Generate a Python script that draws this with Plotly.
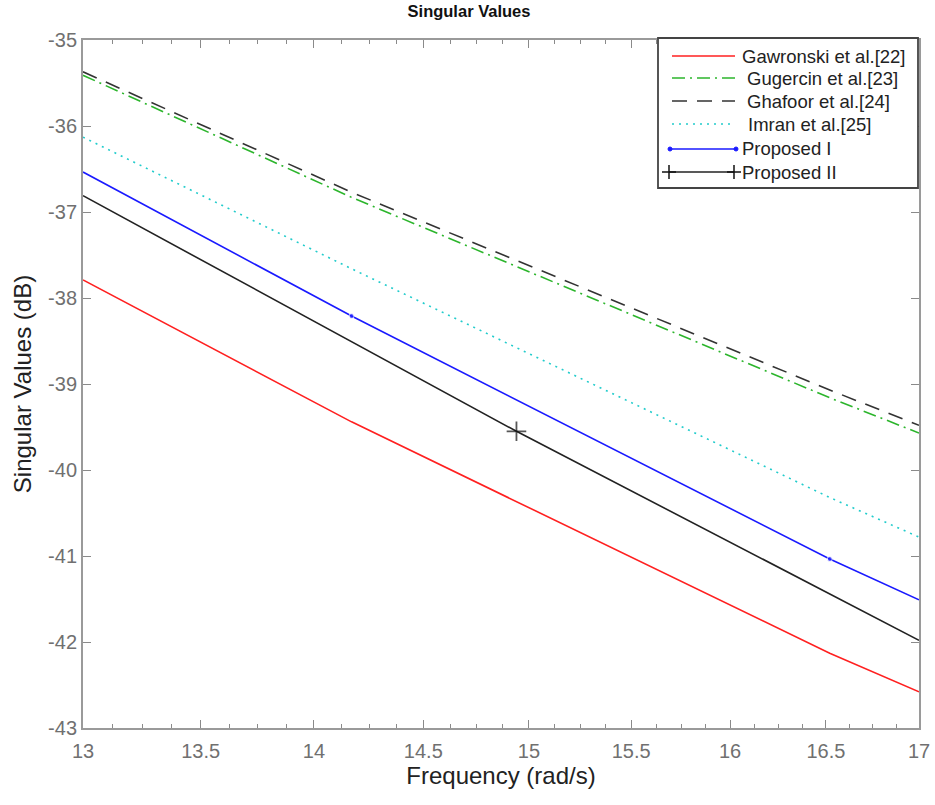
import numpy as np
import plotly.graph_objects as go

# ---------------- data ----------------
freq_grid = [13.0, 14.17, 16.52, 17.0]
freq_p2 = [13.0, 14.94, 17.0]

gawronski = [-37.79, -39.44, -42.13, -42.58]
gugercin = [-35.41, -36.83, -39.16, -39.57]
ghafoor = [-35.37, -36.77, -39.07, -39.48]
imran = [-36.13, -37.66, -40.32, -40.78]
proposed1 = [-36.535, -38.21, -41.035, -41.51]
proposed2 = [-36.81, -39.55, -41.98]

series_names = ["Gawronski et al.[22]", "Gugercin et al.[23]", "Ghafoor et al.[24]",
                "Imran et al.[25]", "Proposed I", "Proposed II"]

x_major = [13, 13.5, 14, 14.5, 15, 15.5, 16, 16.5, 17]
x_tick_text = ["13", "13.5", "14", "14.5", "15", "15.5", "16", "16.5", "17"]
x_minor = [13.125, 13.25, 13.375, 13.625, 13.75, 13.875, 14.125, 14.25, 14.375,
           14.625, 14.75, 14.875, 15.125, 15.25, 15.375, 15.625, 15.75, 15.875,
           16.125, 16.25, 16.375, 16.625, 16.75, 16.875]
y_major = [-35, -36, -37, -38, -39, -40, -41, -42, -43]

# ---------------- layout geometry ----------------
W, H = 935, 805
L, R, T, B = 83, 16, 40, 77
PW, PH = W - L - R, H - T - B

def px2x(px):
    return (px - L) / PW

def px2y(py):
    return (H - B - py) / PH

FONT = "Liberation Sans, Arial, sans-serif"

fig = go.Figure()

line_w = 1.6
fig.add_trace(go.Scatter(x=freq_grid, y=gawronski, mode="lines", name=series_names[0],
                         line=dict(color="#ff2020", width=line_w), showlegend=False))
fig.add_trace(go.Scatter(x=freq_grid, y=gugercin, mode="lines", name=series_names[1],
                         line=dict(color="#2cb52c", width=line_w, dash="13px,5px,2px,5px"),
                         showlegend=False))
fig.add_trace(go.Scatter(x=freq_grid, y=ghafoor, mode="lines", name=series_names[2],
                         line=dict(color="#333333", width=line_w, dash="15px,10px"),
                         showlegend=False))
fig.add_trace(go.Scatter(x=freq_grid, y=imran, mode="lines", name=series_names[3],
                         line=dict(color="#22cccc", width=line_w, dash="2px,5px"),
                         showlegend=False))
fig.add_trace(go.Scatter(x=freq_grid, y=proposed1, mode="lines+markers", name=series_names[4],
                         line=dict(color="#1a1aff", width=line_w),
                         marker=dict(color="#1a1aff", size=[0, 5, 5, 0], symbol="circle"),
                         showlegend=False))
fig.add_trace(go.Scatter(x=freq_p2, y=proposed2, mode="lines+markers", name=series_names[5],
                         line=dict(color="#222222", width=line_w),
                         marker=dict(color="#111111", size=[0, 14, 0], symbol="cross-thin",
                                     line=dict(color="#111111", width=1.8)),
                         showlegend=False))

# ---------------- custom MATLAB-like legend ----------------
shapes = []
annotations = []
shapes.append(dict(type="rect", xref="paper", yref="paper",
                   x0=px2x(658), x1=px2x(918), y0=px2y(188), y1=px2y(38),
                   line=dict(color="#444444", width=1.8), fillcolor="white", layer="above"))
rows_y = [56, 78, 101, 124, 149, 172]
text_x = [742, 747, 747, 748, 742, 742]
styles = [
    dict(color="#ff2020", dash="solid", x0=672, x1=735),
    dict(color="#2cb52c", dash="13px,5px,2px,5px", x0=672, x1=735),
    dict(color="#333333", dash="15px,10px", x0=672, x1=735),
    dict(color="#22cccc", dash="2px,5px", x0=672, x1=730),
    dict(color="#1a1aff", dash="solid", x0=670, x1=736),
    dict(color="#222222", dash="solid", x0=669, x1=734),
]
for i, (ry, tx, st) in enumerate(zip(rows_y, text_x, styles)):
    shapes.append(dict(type="line", xref="paper", yref="paper",
                       x0=px2x(st["x0"]), x1=px2x(st["x1"]), y0=px2y(ry), y1=px2y(ry),
                       line=dict(color=st["color"], width=line_w, dash=st["dash"]),
                       layer="above"))
    annotations.append(dict(xref="paper", yref="paper", x=px2x(tx - 2), y=px2y(ry),
                            text=series_names[i], showarrow=False, xanchor="left",
                            yanchor="middle", font=dict(family=FONT, size=18.5, color="#222222")))
# markers at ends of legend lines
for cx in (670, 736):
    shapes.append(dict(type="circle", xref="paper", yref="paper",
                       x0=px2x(cx - 2), x1=px2x(cx + 2), y0=px2y(149 + 2), y1=px2y(149 - 2),
                       fillcolor="#1a1aff", line=dict(color="#1a1aff", width=1), layer="above"))
for cx in (669, 734):
    shapes.append(dict(type="line", xref="paper", yref="paper",
                       x0=px2x(cx - 7), x1=px2x(cx + 7), y0=px2y(172), y1=px2y(172),
                       line=dict(color="#111111", width=1.5), layer="above"))
    shapes.append(dict(type="line", xref="paper", yref="paper",
                       x0=px2x(cx), x1=px2x(cx), y0=px2y(172 - 7), y1=px2y(172 + 7),
                       line=dict(color="#111111", width=1.5), layer="above"))

axis_common = dict(showline=True, linecolor="#9a9a9a", linewidth=2, mirror="allticks",
                   ticks="inside", tickcolor="#8a8a8a", tickwidth=1, ticklen=8,
                   showgrid=False, zeroline=False, automargin=False,
                   tickfont=dict(family=FONT, size=20, color="#707070"))

fig.update_layout(
    width=W, height=H,
    margin=dict(l=L, r=R, t=T, b=B, pad=0, autoexpand=False),
    paper_bgcolor="white", plot_bgcolor="white",
    title=dict(text="<b>Singular Values</b>", x=469 / W, xanchor="center",
               y=1 - 11 / H, yanchor="middle",
               font=dict(family=FONT, size=16.5, color="#111111")),
    xaxis=dict(type="log", range=[np.log10(13), np.log10(17)],
               tickmode="array", tickvals=x_major, ticktext=x_tick_text,
               ticklabelstandoff=4,
               title=dict(text="Frequency (rad/s)", standoff=6,
                          font=dict(family=FONT, size=24, color="#222222")),
               minor=dict(tickmode="array", tickvals=x_minor, ticks="inside", ticklen=4,
                          tickcolor="#8a8a8a", tickwidth=1, showgrid=False),
               **axis_common),
    yaxis=dict(range=[-43, -35], tickmode="array", tickvals=y_major,
               ticktext=[str(v) for v in y_major],
               title=dict(text="Singular Values (dB)", standoff=10,
                          font=dict(family=FONT, size=24, color="#222222")),
               **axis_common),
    shapes=shapes,
    annotations=annotations,
)

fig.write_html("out.html")
